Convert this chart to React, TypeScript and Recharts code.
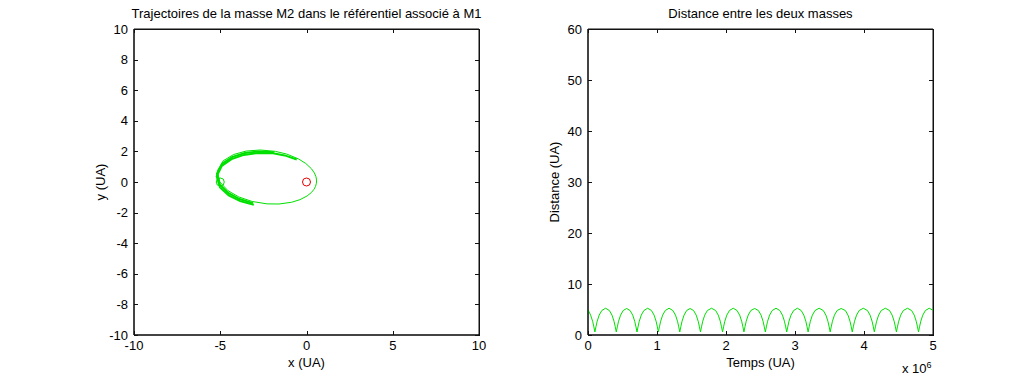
import { LineChart, Line, XAxis, YAxis, ReferenceDot, ReferenceArea } from 'recharts';

// orbite de M2 autour de M1 (UA)
const orbitX = [0.574, 0.583, 0.549, 0.459, 0.283, -0.042, -0.461, -1.139, -1.804, -2.678, -3.501, -4.228, -4.83, -5.169, -5.024, -4.559, -3.923, -3.151, -2.286, -1.597, -0.859, -0.375, 0.032, 0.279, 0.433, 0.526, 0.574];
const orbitY = [-0.081, 0.124, 0.343, 0.588, 0.872, 1.211, 1.508, 1.822, 2.003, 2.092, 2.022, 1.795, 1.385, 0.727, 0, -0.56, -0.978, -1.273, -1.429, -1.438, -1.323, -1.153, -0.916, -0.692, -0.481, -0.28, -0.081];
// bande epaisse cote gauche (orbites suivantes, legerement tournees)
const bandX = [-0.565, -1.263, -1.939, -2.817, -3.634, -4.343, -4.914, -5.207, -5.012, -4.509, -3.845, -3.054];
const bandY = [1.472, 1.739, 1.873, 1.9, 1.772, 1.495, 1.045, 0.364, -0.351, -0.876, -1.249, -1.49];
const band2X = [-1.873, -2.749, -3.57, -4.288, -4.875, -5.191, -5.021, -4.536, -3.886, -3.104];
const band2Y = [1.939, 1.997, 1.898, 1.646, 1.215, 0.546, -0.175, -0.718, -1.114, -1.382];

const m1Pos = [0, 0];
const m2Start = [-5.0, 0];

const xTicks = [-10, -5, 0, 5, 10];
const yTicks = [-10, -8, -6, -4, -2, 0, 2, 4, 6, 8, 10];

// distance entre les masses (temps en 10^6 UA)
const temps = [
  0, 0.038, 0.067, 0.085, 0.1,
  0.115, 0.133, 0.162, 0.2, 0.255, 0.31, 0.348, 0.377, 0.395, 0.41,
  0.425, 0.443, 0.472, 0.51, 0.56, 0.61, 0.648, 0.677, 0.695, 0.71,
  0.725, 0.743, 0.772, 0.81, 0.865, 0.92, 0.958, 0.987, 1.005, 1.02,
  1.035, 1.053, 1.082, 1.12, 1.175, 1.23, 1.268, 1.297, 1.315, 1.33,
  1.345, 1.363, 1.392, 1.43, 1.48, 1.53, 1.568, 1.597, 1.615, 1.63,
  1.645, 1.663, 1.692, 1.73, 1.79, 1.85, 1.888, 1.917, 1.935, 1.95,
  1.965, 1.983, 2.012, 2.05, 2.105, 2.16, 2.198, 2.227, 2.245, 2.26,
  2.275, 2.293, 2.322, 2.36, 2.415, 2.47, 2.508, 2.537, 2.555, 2.57,
  2.585, 2.603, 2.632, 2.67, 2.725, 2.78, 2.818, 2.847, 2.865, 2.88,
  2.895, 2.913, 2.942, 2.98, 3.035, 3.09, 3.128, 3.157, 3.175, 3.19,
  3.205, 3.223, 3.252, 3.29, 3.35, 3.41, 3.448, 3.477, 3.495, 3.51,
  3.525, 3.543, 3.572, 3.61, 3.67, 3.73, 3.768, 3.797, 3.815, 3.83,
  3.845, 3.863, 3.892, 3.93, 3.99, 4.05, 4.088, 4.117, 4.135, 4.15,
  4.165, 4.183, 4.212, 4.25, 4.31, 4.37, 4.408, 4.437, 4.455, 4.47,
  4.485, 4.503, 4.532, 4.57, 4.63, 4.69, 4.728, 4.757, 4.775, 4.79,
  4.805, 4.823, 4.852, 4.89, 4.945, 5.0,
];
const distance = [
  4.95, 3.9, 2.7, 1.6, 0.6,
  1.6, 2.7, 3.9, 4.8, 5.25, 4.8, 3.9, 2.7, 1.6, 0.6,
  1.6, 2.7, 3.9, 4.8, 5.2, 4.8, 3.9, 2.7, 1.6, 0.6,
  1.6, 2.7, 3.9, 4.8, 5.25, 4.8, 3.9, 2.7, 1.6, 0.6,
  1.6, 2.7, 3.9, 4.8, 5.25, 4.8, 3.9, 2.7, 1.6, 0.6,
  1.6, 2.7, 3.9, 4.8, 5.2, 4.8, 3.9, 2.7, 1.6, 0.6,
  1.6, 2.7, 3.9, 4.8, 5.25, 4.8, 3.9, 2.7, 1.6, 0.6,
  1.6, 2.7, 3.9, 4.8, 5.25, 4.8, 3.9, 2.7, 1.6, 0.6,
  1.6, 2.7, 3.9, 4.8, 5.2, 4.8, 3.9, 2.7, 1.6, 0.6,
  1.6, 2.7, 3.9, 4.8, 5.25, 4.8, 3.9, 2.7, 1.6, 0.6,
  1.6, 2.7, 3.9, 4.8, 5.25, 4.8, 3.9, 2.7, 1.6, 0.6,
  1.6, 2.7, 3.9, 4.8, 5.25, 4.8, 3.9, 2.7, 1.6, 0.6,
  1.6, 2.7, 3.9, 4.8, 5.2, 4.8, 3.9, 2.7, 1.6, 0.6,
  1.6, 2.7, 3.9, 4.8, 5.25, 4.8, 3.9, 2.7, 1.6, 0.6,
  1.6, 2.7, 3.9, 4.8, 5.25, 4.8, 3.9, 2.7, 1.6, 0.6,
  1.6, 2.7, 3.9, 4.8, 5.25, 4.8, 3.9, 2.7, 1.6, 0.6,
  1.6, 2.7, 3.9, 4.8, 5.25, 4.85,
];

const tempsTicks = [0, 1, 2, 3, 4, 5];
const distTicks = [0, 10, 20, 30, 40, 50, 60];

const GREEN = '#00e000';
const RED = '#e00000';
const INK = '#111111';
const FONT = "'Liberation Sans', Arial, sans-serif";
const tickStyle = { fill: '#000', fontSize: 13 };

const orbit = orbitX.map((x, i) => ({ x, y: orbitY[i] }));
const band = bandX.map((x, i) => ({ x, y: bandY[i] }));
const band2 = band2X.map((x, i) => ({ x, y: band2Y[i] }));
const distData = temps.map((t, i) => ({ t, d: distance[i] }));

// cadre des axes (boite fermee, graduations vers l'interieur)
const TOP = 29;
const BOTTOM = 335;
const TICK = 4;

function Frame({ left, right, xt, xd, yt, yd }: {
  left: number; right: number; xt: number[]; xd: number[]; yt: number[]; yd: number[];
}) {
  const px = (v: number) => Math.round(left + ((v - xd[0]) / (xd[1] - xd[0])) * (right - left));
  const py = (v: number) => Math.round(BOTTOM - ((v - yd[0]) / (yd[1] - yd[0])) * (BOTTOM - TOP));
  return (
    <g>
      <line x1={left} y1={TOP + 0.5} x2={right + 1} y2={TOP + 0.5} stroke={INK} strokeWidth={1} />
      <line x1={right + 0.5} y1={TOP} x2={right + 0.5} y2={BOTTOM + 1} stroke={INK} strokeWidth={1} />
      {xt.map((v) => (
        <g key={'x' + v}>
          <rect x={px(v)} y={TOP} width={1} height={TICK} fill={INK} />
          <rect x={px(v)} y={BOTTOM - TICK} width={1} height={TICK} fill={INK} />
        </g>
      ))}
      {yt.map((v) => (
        <g key={'y' + v}>
          <rect x={left} y={py(v)} width={TICK} height={1} fill={INK} />
          <rect x={right - TICK} y={py(v)} width={TICK} height={1} fill={INK} />
        </g>
      ))}
    </g>
  );
}

const boxStyle = (left: number, right: number) => ({
  position: 'absolute' as const,
  left,
  top: TOP,
  width: right - left,
  height: BOTTOM - TOP,
  borderTop: `1px solid ${INK}`,
  borderRight: `1px solid ${INK}`,
  pointerEvents: 'none' as const,
});

export default function App() {
  return (
    <div
      style={{
        position: 'absolute',
        left: 0,
        top: 0,
        width: 1030,
        height: 376,
        background: '#fff',
        fontFamily: FONT,
      }}
    >
      <div style={{ position: 'absolute', left: 0, top: 0 }}>
        <LineChart width={515} height={376} data={orbit} margin={{ top: 29, right: 36, bottom: 0, left: 94 }}>
          <XAxis xAxisId="b" type="number" dataKey="x" domain={[-10, 10]} ticks={xTicks}
            height={41} tickSize={-4} tickMargin={10} tickLine={false} stroke="#000" tick={tickStyle} />
          <YAxis yAxisId="l" type="number" domain={[-10, 10]} ticks={yTicks}
            width={40} tickSize={-4} tickMargin={10} tickLine={false} stroke="#000" tick={tickStyle} />
          <ReferenceArea xAxisId="b" yAxisId="l" x1={-10} x2={10} y1={-10} y2={10}
            fill="#ffffff" fillOpacity={0} stroke={INK} ifOverflow="visible" />
          <Line xAxisId="b" yAxisId="l" data={band} dataKey="y" stroke={GREEN} strokeWidth={2}
            dot={false} isAnimationActive={false} />
          <Line xAxisId="b" yAxisId="l" data={band2} dataKey="y" stroke={GREEN} strokeWidth={2}
            dot={false} isAnimationActive={false} />
          <Line xAxisId="b" yAxisId="l" dataKey="y" stroke={GREEN} strokeWidth={1}
            dot={false} isAnimationActive={false} />
          <ReferenceDot xAxisId="b" yAxisId="l" x={m2Start[0]} y={m2Start[1]} r={4}
            fill="none" stroke={GREEN} />
          <ReferenceDot xAxisId="b" yAxisId="l" x={m1Pos[0]} y={m1Pos[1]} r={4}
            fill="none" stroke={RED} />
        </LineChart>
      </div>

      <div style={{ position: 'absolute', left: 515, top: 0 }}>
        <LineChart width={515} height={376} data={distData} margin={{ top: 29, right: 97, bottom: 0, left: 33 }}>
          <XAxis xAxisId="b" type="number" dataKey="t" domain={[0, 5]} ticks={tempsTicks}
            height={41} tickSize={-4} tickMargin={10} tickLine={false} stroke="#000" tick={tickStyle} />
          <YAxis yAxisId="l" type="number" domain={[0, 60]} ticks={distTicks}
            width={40} tickSize={-4} tickMargin={10} tickLine={false} stroke="#000" tick={tickStyle} />
          <ReferenceArea xAxisId="b" yAxisId="l" x1={0} x2={5} y1={0} y2={60}
            fill="#ffffff" fillOpacity={0} stroke={INK} ifOverflow="visible" />
          <Line xAxisId="b" yAxisId="l" dataKey="d" stroke={GREEN} strokeWidth={1}
            dot={false} isAnimationActive={false} />
        </LineChart>
      </div>

      <div style={boxStyle(134, 479)} />
      <div style={boxStyle(588, 933)} />

      <svg width={1030} height={376} style={{ position: 'absolute', left: 0, top: 0, pointerEvents: 'none' }}>
        <Frame left={134} right={479} xt={xTicks} xd={[-10, 10]} yt={yTicks} yd={[-10, 10]} />
        <Frame left={588} right={933} xt={tempsTicks} xd={[0, 5]} yt={distTicks} yd={[0, 60]} />
        <g fontSize={13} fill="#000" textAnchor="middle">
          <text x={306.5} y={17.5}>Trajectoires de la masse M2 dans le référentiel associé à M1</text>
          <text x={760.5} y={17.5}>Distance entre les deux masses</text>
          <text x={306.5} y={367}>x (UA)</text>
          <text x={760.5} y={367}>Temps (UA)</text>
          <text x={105} y={182} transform="rotate(-90 105 182)">y (UA)</text>
          <text x={559} y={182} transform="rotate(-90 559 182)">Distance (UA)</text>
        </g>
        <text x={902} y={373} fontSize={13} fill="#000">
          x 10<tspan dy={-5} fontSize={9}>6</tspan>
        </text>
      </svg>
    </div>
  );
}
